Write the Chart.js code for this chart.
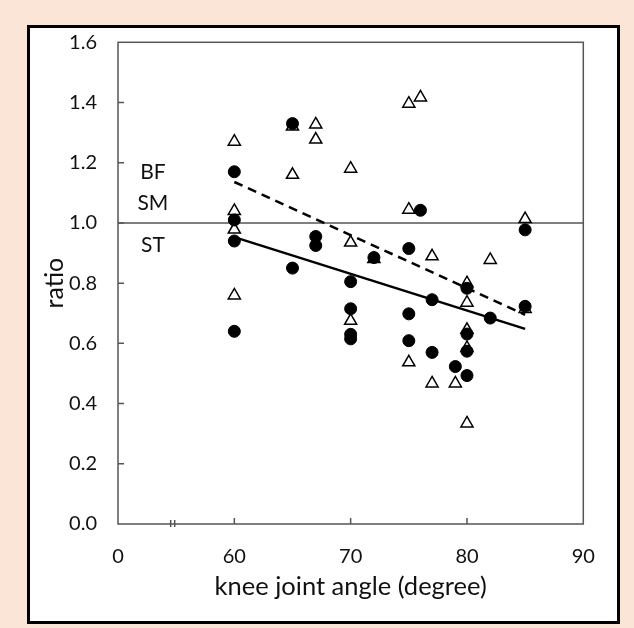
<!DOCTYPE html>
<html>
<head>
<meta charset="utf-8">
<script src="https://cdn.jsdelivr.net/npm/chart.js@4/dist/chart.umd.min.js"></script>
<style>
  body { margin: 0; background: #fbe5d6; }
  #wrap { width: 634px; height: 628px; }
</style>
</head>
<body>
<div id="wrap"><canvas id="grafica" width="634" height="628"></canvas></div>
<script>
// filled circles
const anguloLleno = [60, 60, 60, 60, 65, 65, 67, 67, 70, 70, 70, 70, 72, 75, 75, 75, 76, 77, 77, 79, 80, 80, 80, 80, 82, 85, 85];
const ratioLleno  = [1.17, 1.01, 0.94, 0.64, 1.33, 0.85, 0.955, 0.925, 0.805, 0.715, 0.63, 0.615, 0.885, 0.915, 0.698, 0.609, 1.042, 0.745, 0.57, 0.523, 0.783, 0.631, 0.574, 0.493, 0.684, 0.977, 0.723];

// open triangles
const anguloVacio = [60, 60, 60, 60, 65, 65, 67, 67, 70, 70, 70, 72, 75, 75, 75, 76, 77, 77, 79, 80, 80, 80, 80, 80, 82, 85, 85];
const ratioVacio  = [1.27, 1.04, 0.978, 0.759, 1.32, 1.16, 1.327, 1.277, 1.18, 0.935, 0.675, 0.88, 1.396, 1.044, 0.537, 1.417, 0.889, 0.467, 0.467, 0.80, 0.735, 0.645, 0.585, 0.334, 0.877, 1.013, 0.714];

// trend lines (end points)
const tendX = [60, 85];
const tendLleno = [0.953, 0.648];
const tendVacio = [1.136, 0.695];

// reference line at ratio 1
const refX = [50, 90];
const refY = [1.0, 1.0];

// text labels inside the plot
const etiquetas = ['BF', 'SM', 'ST'];
const etiquetaX = [53, 53, 53];
const etiquetaY = [1.17, 1.065, 0.927];

const ticksY = [0.2, 0.4, 0.6, 0.8, 1.0, 1.2, 1.4];
const ticksX = [60, 70, 80];
const cortePos = 54.7;

const fuente = 'Lato, "Liberation Sans", sans-serif';
const colorTexto = '#111';

function puntos(xs, ys) {
    return xs.map((x, i) => ({ x: x, y: ys[i] }));
}

const marco = {
    id: 'marco',
    beforeDraw(chart) {
        const ctx = chart.ctx;
        ctx.save();
        ctx.fillStyle = '#fbe5d6';
        ctx.fillRect(0, 0, chart.width, chart.height);
        ctx.fillStyle = '#fff';
        ctx.fillRect(28, 26, 591, 597);
        ctx.strokeStyle = '#000';
        ctx.lineWidth = 3;
        ctx.strokeRect(28.5, 26.5, 590, 596);
        ctx.restore();
    },
    afterDraw(chart) {
        const ctx = chart.ctx;
        const a = chart.chartArea;
        const sx = chart.scales.x;
        const sy = chart.scales.y;
        ctx.save();
        ctx.strokeStyle = '#555';
        ctx.lineWidth = 1.5;
        ctx.strokeRect(a.left, a.top, a.right - a.left, a.bottom - a.top);
        // ticks pointing inside
        ctx.beginPath();
        ticksY.forEach(v => {
            const y = sy.getPixelForValue(v);
            ctx.moveTo(a.left, y);
            ctx.lineTo(a.left + 6, y);
        });
        ticksX.forEach(v => {
            const x = sx.getPixelForValue(v);
            ctx.moveTo(x, a.bottom);
            ctx.lineTo(x, a.bottom - 6);
        });
        // axis break
        const xc = sx.getPixelForValue(cortePos);
        ctx.moveTo(xc - 2, a.bottom - 4);
        ctx.lineTo(xc - 2, a.bottom + 3);
        ctx.moveTo(xc + 2, a.bottom - 4);
        ctx.lineTo(xc + 2, a.bottom + 3);
        ctx.stroke();
        // labels
        ctx.fillStyle = colorTexto;
        ctx.font = '21px ' + fuente;
        ctx.textAlign = 'center';
        ctx.textBaseline = 'middle';
        etiquetas.forEach((t, i) => {
            ctx.fillText(t, sx.getPixelForValue(etiquetaX[i]), sy.getPixelForValue(etiquetaY[i]));
        });
        ctx.restore();
    }
};

const ctx = document.getElementById('grafica').getContext('2d');
new Chart(ctx, {
    type: 'scatter',
    data: {
        datasets: [
            {
                label: 'circulos',
                data: puntos(anguloLleno, ratioLleno),
                pointStyle: 'circle',
                pointRadius: 6,
                pointBackgroundColor: '#000',
                pointBorderColor: '#000',
                pointBorderWidth: 1,
                order: 1
            },
            {
                label: 'triangulos',
                data: puntos(anguloVacio, ratioVacio),
                pointStyle: 'triangle',
                pointRadius: 7,
                pointBackgroundColor: '#fff',
                pointBorderColor: '#000',
                pointBorderWidth: 1.5,
                order: 2
            },
            {
                type: 'line',
                label: 'tendencia circulos',
                data: puntos(tendX, tendLleno),
                borderColor: '#000',
                borderWidth: 2.5,
                pointRadius: 0,
                order: 3
            },
            {
                type: 'line',
                label: 'tendencia triangulos',
                data: puntos(tendX, tendVacio),
                borderColor: '#000',
                borderWidth: 2.5,
                borderDash: [9, 6],
                pointRadius: 0,
                order: 4
            },
            {
                type: 'line',
                label: 'referencia',
                data: puntos(refX, refY),
                borderColor: '#555',
                borderWidth: 1.5,
                pointRadius: 0,
                order: 5
            }
        ]
    },
    options: {
        responsive: false,
        animation: false,
        devicePixelRatio: 1,
        layout: { padding: { left: 0, top: 42.3, right: 50.7, bottom: 0 } },
        plugins: { legend: { display: false }, tooltip: { enabled: false } },
        scales: {
            x: {
                type: 'linear',
                min: 50,
                max: 90,
                afterFit: s => { s.height = 104; },
                grid: { display: false, drawTicks: false },
                border: { display: false },
                ticks: {
                    stepSize: 10,
                    padding: 21,
                    color: colorTexto,
                    font: { family: fuente, size: 20 },
                    callback: v => (v === 50 ? '0' : v)
                },
                title: {
                    display: true,
                    text: 'knee joint angle (degree)',
                    color: colorTexto,
                    font: { family: fuente, size: 25.5 },
                    padding: { top: 0, bottom: 26 }
                }
            },
            y: {
                min: 0,
                max: 1.6,
                afterFit: s => { s.width = 118; },
                grid: { display: false, drawTicks: false },
                border: { display: false },
                ticks: {
                    stepSize: 0.2,
                    padding: 21,
                    color: colorTexto,
                    font: { family: fuente, size: 20 },
                    callback: v => v.toFixed(1)
                },
                title: {
                    display: true,
                    text: 'ratio',
                    color: colorTexto,
                    font: { family: fuente, size: 25 },
                    padding: { top: 40, bottom: 0 }
                }
            }
        }
    },
    plugins: [marco]
});
</script>
</body>
</html>
